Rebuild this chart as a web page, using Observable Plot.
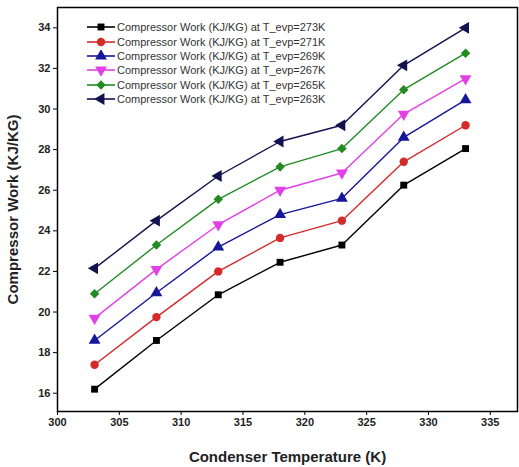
<!DOCTYPE html>
<html>
<head>
<meta charset="utf-8">
<script src="https://cdn.jsdelivr.net/npm/d3@7"></script>
<script src="https://cdn.jsdelivr.net/npm/@observablehq/plot@0.6"></script>
<style>
  body { margin: 0; background: #fff; }
  #chart { position: relative; width: 519px; height: 467px; font-family: "Liberation Sans", Arial, sans-serif; }
  #legend { position: absolute; left: 86px; top: 20px; font-size: 11px; color: #333; }
  #legend .row { display: flex; align-items: center; height: 14.4px; }
  #legend svg { margin-right: 1px; }
</style>
</head>
<body>
<div id="chart"><div id="legend"></div></div>
<script>
// Condenser temperature (K) on the x axis
const condenserTemp = [303, 308, 313, 318, 323, 328, 333];

// Compressor work (KJ/KG) for each evaporator temperature
const work273 = [16.2, 18.6, 20.85, 22.45, 23.3, 26.25, 28.05];
const work271 = [17.4, 19.75, 22.0, 23.65, 24.5, 27.4, 29.2];
const work269 = [18.6, 20.95, 23.2, 24.8, 25.6, 28.6, 30.45];
const work267 = [19.7, 22.1, 24.3, 26.0, 26.85, 29.75, 31.5];
const work265 = [20.9, 23.3, 25.55, 27.15, 28.05, 30.95, 32.75];
const work263 = [22.15, 24.5, 26.7, 28.4, 29.2, 32.15, 34.0];

const evapLabels = ["273K", "271K", "269K", "267K", "265K", "263K"];
const xTicks = [300, 305, 310, 315, 320, 325, 330, 335];
const yTicks = [16, 18, 20, 22, 24, 26, 28, 30, 32, 34];

// Series styling: colour, marker symbol and marker rotation
const seriesValues = [work273, work271, work269, work267, work265, work263];
const colors = ["#000000", "#d42a2a", "#16169a", "#e040e6", "#228b22", "#12124e"];
const symbols = ["square", "circle", "triangle", "triangle", "square", "triangle"];
const rotations = [0, 0, 0, 180, 45, 270];
const radii = [3.9, 4.2, 4.4, 4.4, 3.8, 4.4];

const series = seriesValues.map((vals, i) =>
  condenserTemp.map((t, j) => ({ t, w: vals[j], i }))
);

const marks = [];
series.forEach((data, i) => {
  marks.push(Plot.line(data, { x: "t", y: "w", stroke: colors[i], strokeWidth: 1.4 }));
});
series.forEach((data, i) => {
  marks.push(Plot.dot(data, {
    x: "t", y: "w", symbol: () => symbols[i], rotate: rotations[i],
    r: radii[i], fill: colors[i], stroke: "none"
  }));
});

const chart = Plot.plot({
  width: 519,
  height: 467,
  marginLeft: 57,
  marginRight: 2,
  marginTop: 7,
  marginBottom: 56,
  style: { fontFamily: "'Liberation Sans', Arial, sans-serif", background: "#fff" },
  x: { domain: [300, 337.2] },
  y: { domain: [15.1, 35] },
  symbol: { type: "identity" },
  marks: [
    ...marks,
    Plot.frame({ stroke: "#000", strokeWidth: 1.5 }),
    Plot.axisX({
      ticks: xTicks, tickSize: 4, tickPadding: 3, tickFormat: d => String(d),
      fontSize: 11, fontWeight: "bold", fill: "#222",
      label: "Condenser Temperature (K)", labelAnchor: "center", labelArrow: "none", labelOffset: 50
    }),
    Plot.axisY({
      ticks: yTicks, tickSize: 4, tickPadding: 3, tickFormat: d => String(d),
      fontSize: 11, fontWeight: "bold", fill: "#222",
      label: "Compressor Work (KJ/KG)", labelAnchor: "center", labelArrow: "none", labelOffset: 50
    })
  ]
});

// Bolder, larger axis titles
d3.select(chart).selectAll("[aria-label='x-axis label'] text, [aria-label='y-axis label'] text")
  .attr("font-size", 15).attr("font-weight", "bold");

document.getElementById("chart").prepend(chart);

// Legend: one row per evaporator temperature
const legend = d3.select("#legend");
evapLabels.forEach((lab, i) => {
  const row = legend.append("div").attr("class", "row");
  const sw = row.append("svg").attr("width", 30).attr("height", 12);
  sw.append("line").attr("x1", 1).attr("x2", 29).attr("y1", 6).attr("y2", 6)
    .attr("stroke", colors[i]).attr("stroke-width", 1.6);
  sw.append("path")
    .attr("d", d3.symbol(
      { square: d3.symbolSquare, circle: d3.symbolCircle, triangle: d3.symbolTriangle }[symbols[i]],
      Math.PI * radii[i] * radii[i])())
    .attr("transform", `translate(15,6) rotate(${rotations[i]})`)
    .attr("fill", colors[i]);
  row.append("span").text(`Compressor Work (KJ/KG) at T_evp=${lab}`);
});
</script>
</body>
</html>
